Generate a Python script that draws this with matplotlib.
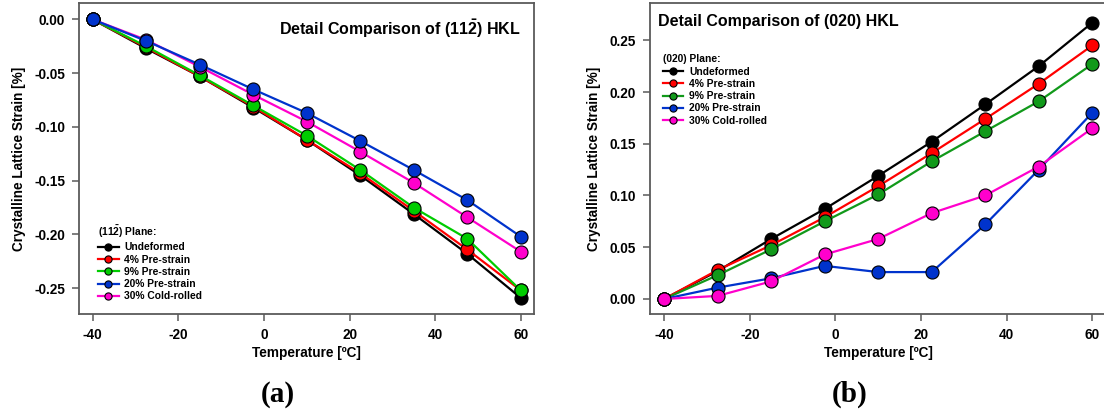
import matplotlib
matplotlib.use("Agg")
import matplotlib.pyplot as plt
from matplotlib.ticker import FormatStrFormatter

plt.rcParams['font.family'] = ['Liberation Sans', 'DejaVu Sans']
plt.rcParams['font.weight'] = 'bold'
plt.rcParams['axes.unicode_minus'] = False
plt.rcParams['mathtext.fontset'] = 'custom'
plt.rcParams['mathtext.rm'] = 'Liberation Sans:bold'
plt.rcParams['mathtext.bf'] = 'Liberation Sans:bold'
plt.rcParams['mathtext.it'] = 'Liberation Sans:bold'

temperature = [-40, -27.5, -15, -2.5, 10, 22.5, 35, 47.5, 60]
series_labels = ["Undeformed", "4% Pre-strain", "9% Pre-strain", "20% Pre-strain", "30% Cold-rolled"]

# (11-2) plane
hkl112_undeformed = [0.0, -0.027, -0.053, -0.082, -0.112, -0.145, -0.181, -0.218, -0.259]
hkl112_pre4 = [0.0, -0.026, -0.053, -0.081, -0.112, -0.143, -0.178, -0.214, -0.252]
hkl112_pre9 = [0.0, -0.025, -0.052, -0.080, -0.108, -0.140, -0.175, -0.204, -0.252]
hkl112_pre20 = [0.0, -0.020, -0.042, -0.065, -0.087, -0.113, -0.140, -0.168, -0.202]
hkl112_cold30 = [0.0, -0.019, -0.044, -0.070, -0.095, -0.123, -0.152, -0.184, -0.216]

# (020) plane
hkl020_undeformed = [0.0, 0.027, 0.058, 0.087, 0.119, 0.152, 0.188, 0.225, 0.267]
hkl020_pre4 = [0.0, 0.028, 0.052, 0.079, 0.109, 0.141, 0.174, 0.208, 0.245]
hkl020_pre9 = [0.0, 0.023, 0.048, 0.075, 0.101, 0.133, 0.162, 0.191, 0.227]
hkl020_pre20 = [0.0, 0.011, 0.020, 0.032, 0.026, 0.026, 0.072, 0.125, 0.180]
hkl020_cold30 = [0.0, 0.003, 0.017, 0.043, 0.058, 0.083, 0.100, 0.128, 0.165]

x_ticks = [-40, -20, 0, 20, 40, 60]
y_ticks_a = [0.0, -0.05, -0.10, -0.15, -0.20, -0.25]
y_ticks_b = [0.0, 0.05, 0.10, 0.15, 0.20, 0.25]

colors_a = ['#000000', '#ff0000', '#00cc00', '#0033cc', '#ff00cc']
colors_b = ['#000000', '#ff0000', '#11991a', '#0033cc', '#ff00cc']
zorders_a = [3, 4, 5, 7, 6]
zorders_b = [3, 4, 5, 6, 7]

fig = plt.figure(figsize=(11.04, 4.16), dpi=100)
W, H = 1104, 416
ax1 = fig.add_axes([79 / W, (H - 314) / H, 455 / W, 311 / H])
ax2 = fig.add_axes([650 / W, (H - 314) / H, 456 / W, 311 / H])

spine_color = '#5a5a5a'


def style(ax, yticks, ylim, xlim):
    for s in ax.spines.values():
        s.set_color(spine_color)
        s.set_linewidth(1.3)
    ax.set_xlim(*xlim)
    ax.set_ylim(*ylim)
    ax.set_xticks(x_ticks)
    ax.set_yticks(yticks)
    ax.yaxis.set_major_formatter(FormatStrFormatter('%.2f'))
    ax.tick_params(axis='both', direction='out', length=5, width=1.1,
                   color=spine_color, labelsize=9.8, pad=5)
    for lbl in ax.get_xticklabels() + ax.get_yticklabels():
        lbl.set_fontweight('bold')
    ax.set_xlabel('Temperature [ºC]', fontsize=9.8, fontweight='bold', labelpad=3)
    ax.set_ylabel('Crystalline Lattice Strain [%]', fontsize=9.8, fontweight='bold', labelpad=6)


def draw(ax, data, colors, zorders):
    handles = []
    for vals, lab, c, z in zip(data, series_labels, colors, zorders):
        h, = ax.plot(temperature, vals, color=c, lw=1.6, marker='o', markersize=9.4,
                     markerfacecolor=c, markeredgecolor='black', markeredgewidth=0.8,
                     label=lab, zorder=z, clip_on=False)
        handles.append(h)
    return handles


h1 = draw(ax1, [hkl112_undeformed, hkl112_pre4, hkl112_pre9, hkl112_pre20, hkl112_cold30],
          colors_a, zorders_a)
h2 = draw(ax2, [hkl020_undeformed, hkl020_pre4, hkl020_pre9, hkl020_pre20, hkl020_cold30],
          colors_b, zorders_b)

style(ax1, y_ticks_a, (-0.274, 0.0153), (-43.2, 63.1))
style(ax2, y_ticks_b, (-0.0145, 0.286), (-43.3, 63.2))

leg_kw = dict(frameon=False, loc='upper left', borderpad=0, borderaxespad=0,
              handlelength=2.0, handletextpad=0.55, labelspacing=0.22,
              markerscale=0.55, alignment='left',
              prop={'size': 7.4, 'weight': 'bold'},
              title_fontproperties={'size': 7.4, 'weight': 'bold'})
ax1.legend(handles=h1, title=r'(11$\bar{2}$) Plane:', bbox_to_anchor=(0.042, 0.29), **leg_kw)
ax2.legend(handles=h2, title='(020) Plane:', bbox_to_anchor=(0.028, 0.835), **leg_kw)

ax1.text(0.97, 0.955, r'Detail Comparison of (11$\bar{2}$) HKL', transform=ax1.transAxes,
         ha='right', va='top', fontsize=11.5, fontweight='bold')
ax2.text(0.018, 0.965, 'Detail Comparison of (020) HKL', transform=ax2.transAxes,
         ha='left', va='top', fontsize=11.5, fontweight='bold')

fig.text(278 / W, 1 - 394 / H, '(a)', ha='center', va='center',
         fontsize=21, fontweight='bold', family='Liberation Serif')
fig.text(850 / W, 1 - 394 / H, '(b)', ha='center', va='center',
         fontsize=21, fontweight='bold', family='Liberation Serif')

fig.savefig('out.png', dpi=100)
